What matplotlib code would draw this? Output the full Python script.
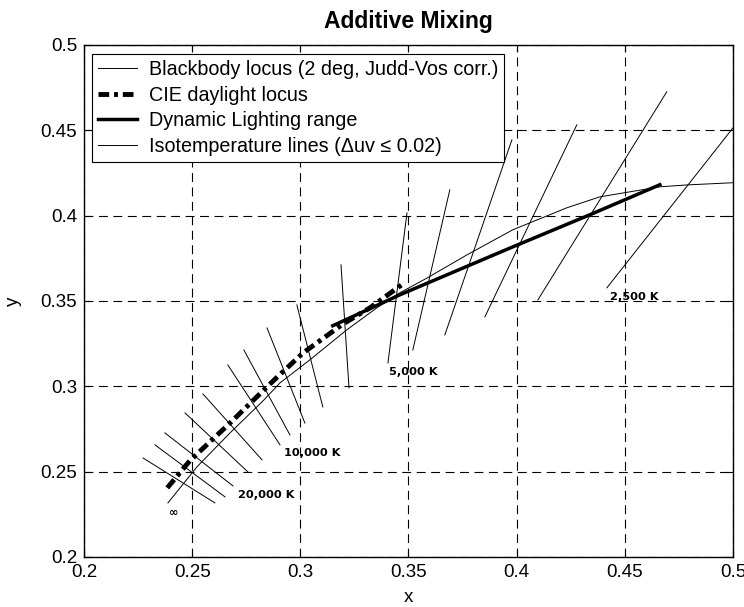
import numpy as np
import matplotlib
matplotlib.use('Agg')
import matplotlib.pyplot as plt

plt.rcParams['font.family'] = ['Liberation Sans', 'DejaVu Sans']

# blackbody locus
bb_x = [0.2388, 0.2522, 0.2675, 0.2827, 0.2906, 0.3044, 0.3215, 0.3354, 0.3460,
        0.3585, 0.3770, 0.3982, 0.4232, 0.4384, 0.4662, 0.4787, 0.4985, 0.5000]
bb_y = [0.2317, 0.2528, 0.2727, 0.2914, 0.3020, 0.3155, 0.3331, 0.3460, 0.3548,
        0.3634, 0.3770, 0.3917, 0.4046, 0.4110, 0.4169, 0.4180, 0.4192, 0.4193]

# CIE daylight locus
dl_x = [0.2385, 0.2490, 0.2675, 0.2873, 0.3012, 0.3197, 0.3322, 0.3474]
dl_y = [0.2405, 0.2565, 0.2785, 0.3030, 0.3195, 0.3365, 0.3460, 0.3600]

# dynamic lighting range
dyn_x = [0.3150, 0.3460, 0.3982, 0.4338, 0.4662]
dyn_y = [0.3355, 0.3536, 0.3817, 0.4005, 0.4181]

# isotemperature lines: (x0, y0, x1, y1)
iso_x0 = [0.2273, 0.2328, 0.2374, 0.2467, 0.2550, 0.2665, 0.2739, 0.2846,
          0.2984, 0.3188, 0.3493, 0.3691, 0.3978, 0.4278, 0.4694, 0.5110]
iso_y0 = [0.2580, 0.2657, 0.2727, 0.2844, 0.2955, 0.3125, 0.3213, 0.3342,
          0.3477, 0.3712, 0.4016, 0.4151, 0.4444, 0.4532, 0.4726, 0.4691]
iso_x1 = [0.2605, 0.2652, 0.2689, 0.2758, 0.2823, 0.2906, 0.2952, 0.3021,
          0.3104, 0.3225, 0.3405, 0.3520, 0.3668, 0.3853, 0.4098, 0.4417]
iso_y1 = [0.2317, 0.2352, 0.2416, 0.2498, 0.2569, 0.2657, 0.2715, 0.2785,
          0.2879, 0.2991, 0.3137, 0.3213, 0.3301, 0.3407, 0.3506, 0.3577]

temp_labels = ['\u221e', '20,000 K', '10,000 K', '5,000 K', '2,500 K']
temp_lx = [0.2416, 0.2841, 0.3054, 0.3520, 0.4542]
temp_ly = [0.2258, 0.2363, 0.2610, 0.3084, 0.3524]

ticks = [0.2, 0.25, 0.3, 0.35, 0.4, 0.45, 0.5]
tick_labels = ['0.2', '0.25', '0.3', '0.35', '0.4', '0.45', '0.5']

fig = plt.figure(figsize=(7.44, 6.07), dpi=100)
ax = fig.add_axes([0.1129, 0.0824, 0.8723, 0.8435])

ax.plot(bb_x, bb_y, color='k', lw=0.7, label='Blackbody locus (2 deg, Judd-Vos corr.)')
ax.plot(dl_x, dl_y, color='k', lw=3.5, linestyle=(0, (2.2, 1.0, 0.8, 1.0)),
        label='CIE daylight locus')
ax.plot(dyn_x, dyn_y, color='k', lw=2.5, label='Dynamic Lighting range')
for i in range(len(iso_x0)):
    ax.plot([iso_x0[i], iso_x1[i]], [iso_y0[i], iso_y1[i]], color='k', lw=0.7,
            label='Isotemperature lines (\u0394uv \u2264 0.02)' if i == 0 else None)

for t, lx, ly in zip(temp_labels, temp_lx, temp_ly):
    ax.text(lx, ly, t, ha='center', va='center', fontsize=8.2, fontweight='bold',
            family='DejaVu Sans')

ax.set_xlim(0.2, 0.5)
ax.set_ylim(0.2, 0.5)
ax.set_xticks(ticks)
ax.set_yticks(ticks)
ax.set_xticklabels(tick_labels)
ax.set_yticklabels(tick_labels)
ax.tick_params(direction='in', length=5, top=True, right=True, labelsize=13.5, pad=5)
ax.grid(True, color='k', linestyle=(0, (8, 5)), lw=0.8)
for s in ax.spines.values():
    s.set_linewidth(1.0)

ax.set_xlabel('x', fontsize=13.5, labelpad=6)
ax.set_ylabel('y', fontsize=13.5, labelpad=13)
ax.set_title('Additive Mixing', fontsize=16.5, fontweight='bold', pad=12)

leg = ax.legend(loc='upper left', bbox_to_anchor=(0.012, 0.982), fontsize=14.2,
                frameon=True, fancybox=False, edgecolor='k', framealpha=1,
                borderaxespad=0, handlelength=2.0, handletextpad=0.6,
                labelspacing=0.33, borderpad=0.3)
leg.get_frame().set_linewidth(0.8)

fig.savefig('out.png', dpi=100)
